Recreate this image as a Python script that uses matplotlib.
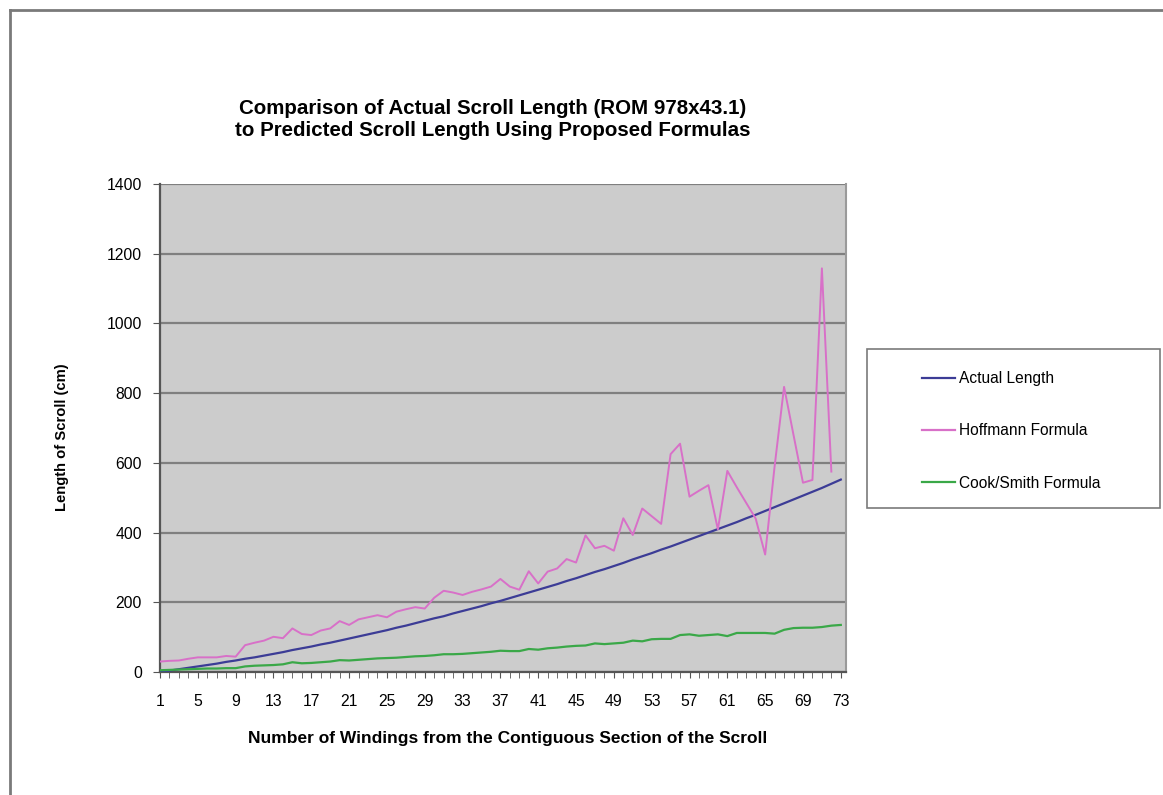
import matplotlib
matplotlib.use('Agg')
import matplotlib.pyplot as plt
import matplotlib.patches as mpatches
import matplotlib.lines as mlines

plt.rcParams['font.family'] = ['Liberation Sans', 'DejaVu Sans']

# windings 1..73
windings = list(range(1, 74))

actual_length = [0, 4, 8, 12, 16, 20, 24, 29, 33, 38,
                 42, 47, 52, 57, 63, 68, 73, 79, 84, 90,
                 96, 102, 108, 114, 120, 127, 133, 140, 147, 154,
                 160, 168, 175, 182, 189, 197, 204, 212, 220, 228,
                 236, 244, 252, 261, 269, 278, 287, 295, 304, 313,
                 323, 332, 341, 351, 360, 370, 380, 390, 400, 410,
                 420, 430, 441, 451, 462, 473, 484, 495, 506, 517,
                 528, 540, 552]

hoffmann = [30, 32, 33, 38, 42, 42, 42, 46, 44, 77,
            84, 90, 101, 97, 125, 109, 106, 119, 125, 146,
            135, 151, 157, 163, 157, 173, 180, 186, 182, 213,
            233, 228, 221, 230, 237, 245, 267, 245, 236, 289,
            254, 288, 297, 324, 314, 392, 355, 362, 348, 441,
            393, 469, 447, 425, 625, 655, 503, 520, 536, 409,
            577, 530, 485, 440, 337, 590, 818, 680, 543, 551,
            1158, 575, None]

cook_smith = [5, 6, 7, 8, 9, 10, 10, 11, 11, 16,
              18, 19, 20, 22, 28, 25, 26, 28, 30, 34,
              33, 35, 37, 39, 40, 41, 43, 45, 46, 48,
              51, 51, 52, 54, 56, 58, 61, 60, 60, 66,
              64, 68, 70, 73, 75, 76, 82, 80, 82, 84,
              90, 88, 94, 95, 95, 106, 108, 104, 106, 108,
              103, 112, 112, 112, 112, 110, 121, 126, 127, 127,
              129, 133, 135]

x_tick_labels = [str(v) for v in range(1, 74, 4)]
y_ticks = [0, 200, 400, 600, 800, 1000, 1200, 1400]

series_names = ['Actual Length', 'Hoffmann Formula', 'Cook/Smith Formula']
series_colors = ['#3c3c96', '#d870c8', '#3aa848']

W, H = 1163, 795
fig = plt.figure(figsize=(W / 100, H / 100), dpi=100)
fig.patch.set_facecolor('white')

# outer frame (top and left edges visible)
fig.add_artist(mlines.Line2D([10 / W, 10 / W], [0, 1 - 10 / H], color='#7a7a7a', linewidth=2,
                             transform=fig.transFigure))
fig.add_artist(mlines.Line2D([10 / W, 1], [1 - 10 / H, 1 - 10 / H], color='#7a7a7a', linewidth=2,
                             transform=fig.transFigure))

ax = fig.add_axes([160 / W, (H - 672) / H, 686 / W, 488 / H])
ax.set_facecolor('#cccccc')

hoff_x = [w for w, v in zip(windings, hoffmann) if v is not None]
hoff_y = [v for v in hoffmann if v is not None]

ax.plot(windings, actual_length, color=series_colors[0], linewidth=1.6, zorder=3)
ax.plot(hoff_x, hoff_y, color=series_colors[1], linewidth=1.4, zorder=3)
ax.plot(windings, cook_smith, color=series_colors[2], linewidth=1.6, zorder=3)

ax.set_xlim(1, 73.55)
ax.set_ylim(0, 1400)
ax.set_yticks(y_ticks)
ax.set_yticklabels([str(v) for v in y_ticks], fontsize=11.3)
ax.set_xticks(windings, minor=True)
ax.set_xticks(list(range(1, 74, 4)))
ax.set_xticklabels(x_tick_labels, fontsize=11.3)
ax.tick_params(axis='x', which='both', length=4, direction='out', color='#555555', pad=12)
ax.tick_params(axis='y', length=5, direction='out', color='#555555', pad=8)

ax.grid(axis='y', color='#7f7f7f', linewidth=1.6)
ax.set_axisbelow(True)

for side in ['left', 'bottom']:
    ax.spines[side].set_color('#555555')
    ax.spines[side].set_linewidth(1.6)
ax.spines['top'].set_visible(False)
ax.spines['right'].set_color('#9a9a9a')
ax.spines['right'].set_linewidth(1.5)

fig.text(493 / W, 1 - 119 / H,
         'Comparison of Actual Scroll Length (ROM 978x43.1)\nto Predicted Scroll Length Using Proposed Formulas',
         ha='center', va='center', fontsize=14.8, fontweight='bold', linespacing=1.2)
fig.text(508 / W, 1 - 738 / H, 'Number of Windings from the Contiguous Section of the Scroll',
         ha='center', va='center', fontsize=12.5, fontweight='bold')
fig.text(62 / W, 1 - 437 / H, 'Length of Scroll (cm)', rotation=90,
         ha='center', va='center', fontsize=10.6, fontweight='bold')

# legend box
fig.add_artist(mpatches.Rectangle((867 / W, 1 - 508 / H), 293 / W, 159 / H, transform=fig.transFigure,
                                  facecolor='white', edgecolor='#7a7a7a', linewidth=1.2))
handles = [mlines.Line2D([], [], color=c, linewidth=1.6) for c in series_colors]
fig.legend(handles, series_names, loc='center left', bbox_to_anchor=(922 / W, 1 - 431 / H),
           frameon=False, fontsize=11.2, labelspacing=2.4, handlelength=2.1, handletextpad=0.3,
           borderaxespad=0, borderpad=0)

fig.savefig('out.png', dpi=100)
